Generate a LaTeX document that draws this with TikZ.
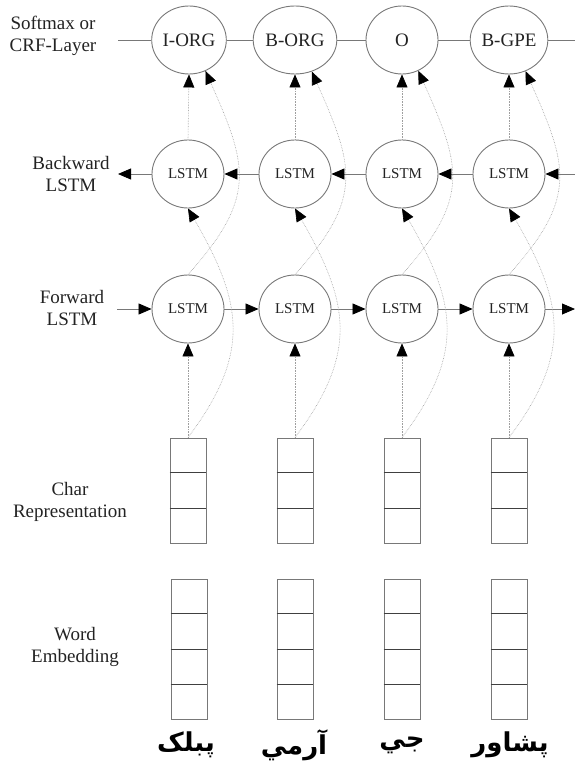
\documentclass[tikz,border=0pt]{standalone}
\usepackage{fontspec}
\setmainfont{Liberation Serif}
\newfontfamily\arabicfont[Script=Arabic]{DejaVu Sans}
\TeXXeTstate=1
\usepackage{xcolor}
\usetikzlibrary{arrows.meta, shapes.geometric, calc}
\definecolor{inkgray}{RGB}{120,120,120}
\definecolor{txtgray}{RGB}{35,35,35}

\begin{document}
\begin{tikzpicture}[x=1pt, y=1pt,
		cell/.style={ellipse, draw=inkgray, line width=0.9pt, minimum width=72pt, minimum height=68pt, inner sep=0pt, text=txtgray},
		tag/.style={cell, font=\fontsize{19}{22}\selectfont},
		lstm/.style={cell, font=\fontsize{15}{18}\selectfont},
		stack/.style={draw=inkgray, line width=0.9pt, minimum width=36pt, inner sep=0pt},
		divide/.style={draw=black!75, line width=0.8pt},
		side/.style={align=center, text=txtgray, font=\fontsize{19}{22}\selectfont},
		word/.style={text=black, font=\arabicfont\bfseries\fontsize{26}{29}\selectfont},
		link/.style={draw=inkgray, line width=0.8pt},
		flow/.style={link, -{Triangle[length=13pt, width=11pt, color=black]}},
		feed/.style={draw=gray!75, line width=0.6pt, densely dotted, -{Triangle[length=13pt, width=11pt, color=black]}}]
			\useasboundingbox (0,0) rectangle (575,-765);
			% Layer names:
			\node[side](L1) at (53,-36){Softmax or\\CRF-Layer};
			\node[side](L2) at (71,-174){Backward\\LSTM};
			\node[side](L3) at (72,-308){Forward\\LSTM};
			\node[side](L4) at (70,-502){Char\\Representation};
			\node[side](L5) at (75,-647){Word\\Embedding};
			% Output tags:
			\node[tag](S1) at (189,-40){I-ORG};
			\node[tag](S2) at (295,-40){B-ORG};
			\node[tag](S3) at (402,-40){O};
			\node[tag](S4) at (509,-40){B-GPE};
			% Backward and forward cells:
			\node[lstm](B1) at (188,-174){LSTM};
			\node[lstm](B2) at (295,-174){LSTM};
			\node[lstm](B3) at (402,-174){LSTM};
			\node[lstm](B4) at (509,-174){LSTM};
			\node[lstm](F1) at (188,-309){LSTM};
			\node[lstm](F2) at (295,-309){LSTM};
			\node[lstm](F3) at (402,-309){LSTM};
			\node[lstm](F4) at (509,-309){LSTM};
			% Char and word vectors:
			\node[stack, minimum height=105pt](C1) at (188,-490.5){};
			\node[stack, minimum height=105pt](C2) at (295,-490.5){};
			\node[stack, minimum height=105pt](C3) at (402,-490.5){};
			\node[stack, minimum height=105pt](C4) at (509,-490.5){};
			\node[stack, minimum height=140pt](W1) at (189,-649){};
			\node[stack, minimum height=140pt](W2) at (295,-649){};
			\node[stack, minimum height=140pt](W3) at (402,-649){};
			\node[stack, minimum height=140pt](W4) at (509,-649){};
			\draw[divide] ($(C1.north west)!1/3!(C1.south west)$) -- ($(C1.north east)!1/3!(C1.south east)$);
			\draw[divide] ($(C1.north west)!2/3!(C1.south west)$) -- ($(C1.north east)!2/3!(C1.south east)$);
			\draw[divide] ($(C2.north west)!1/3!(C2.south west)$) -- ($(C2.north east)!1/3!(C2.south east)$);
			\draw[divide] ($(C2.north west)!2/3!(C2.south west)$) -- ($(C2.north east)!2/3!(C2.south east)$);
			\draw[divide] ($(C3.north west)!1/3!(C3.south west)$) -- ($(C3.north east)!1/3!(C3.south east)$);
			\draw[divide] ($(C3.north west)!2/3!(C3.south west)$) -- ($(C3.north east)!2/3!(C3.south east)$);
			\draw[divide] ($(C4.north west)!1/3!(C4.south west)$) -- ($(C4.north east)!1/3!(C4.south east)$);
			\draw[divide] ($(C4.north west)!2/3!(C4.south west)$) -- ($(C4.north east)!2/3!(C4.south east)$);
			\draw[divide] ($(W1.north west)!1/4!(W1.south west)$) -- ($(W1.north east)!1/4!(W1.south east)$);
			\draw[divide] ($(W1.north west)!2/4!(W1.south west)$) -- ($(W1.north east)!2/4!(W1.south east)$);
			\draw[divide] ($(W1.north west)!3/4!(W1.south west)$) -- ($(W1.north east)!3/4!(W1.south east)$);
			\draw[divide] ($(W2.north west)!1/4!(W2.south west)$) -- ($(W2.north east)!1/4!(W2.south east)$);
			\draw[divide] ($(W2.north west)!2/4!(W2.south west)$) -- ($(W2.north east)!2/4!(W2.south east)$);
			\draw[divide] ($(W2.north west)!3/4!(W2.south west)$) -- ($(W2.north east)!3/4!(W2.south east)$);
			\draw[divide] ($(W3.north west)!1/4!(W3.south west)$) -- ($(W3.north east)!1/4!(W3.south east)$);
			\draw[divide] ($(W3.north west)!2/4!(W3.south west)$) -- ($(W3.north east)!2/4!(W3.south east)$);
			\draw[divide] ($(W3.north west)!3/4!(W3.south west)$) -- ($(W3.north east)!3/4!(W3.south east)$);
			\draw[divide] ($(W4.north west)!1/4!(W4.south west)$) -- ($(W4.north east)!1/4!(W4.south east)$);
			\draw[divide] ($(W4.north west)!2/4!(W4.south west)$) -- ($(W4.north east)!2/4!(W4.south east)$);
			\draw[divide] ($(W4.north west)!3/4!(W4.south west)$) -- ($(W4.north east)!3/4!(W4.south east)$);
			% Input words:
			\node[word](A1) at (186,-745){\beginR پبلک\endR};
			\node[word](A2) at (294,-745){\beginR آرمي\endR};
			\node[word](A3) at (402,-745){\beginR جي\endR};
			\node[word](A4) at (510,-745){\beginR پشاور\endR};
			% Free line ends at the edges:
			\coordinate (s0) at (118,-40);
			\coordinate (s5) at (575,-40);
			\coordinate (b0) at (118,-174);
			\coordinate (b5) at (575,-174);
			\coordinate (f0) at (117,-309);
			\coordinate (f5) at (575,-309);
			% Chains:
			\draw[link] (s0) -- (S1) -- (S2) -- (S3) -- (S4) -- (s5);
			\draw[flow] (B1) -- (b0);
			\draw[flow] (B2) -- (B1);
			\draw[flow] (B3) -- (B2);
			\draw[flow] (B4) -- (B3);
			\draw[flow] (b5) -- (B4);
			\draw[flow] (f0) -- (F1);
			\draw[flow] (F1) -- (F2);
			\draw[flow] (F2) -- (F3);
			\draw[flow] (F3) -- (F4);
			\draw[flow] (F4) -- (f5);
			% Feeds between layers:
			\draw[feed] (C1.north) -- (F1.south);
			\draw[feed] (C2.north) -- (F2.south);
			\draw[feed] (C3.north) -- (F3.south);
			\draw[feed] (C4.north) -- (F4.south);
			\draw[feed] (C1.north) to[out=53, in=-60, looseness=1.2] (B1.south);
			\draw[feed] (C2.north) to[out=53, in=-60, looseness=1.2] (B2.south);
			\draw[feed] (C3.north) to[out=53, in=-60, looseness=1.2] (B3.south);
			\draw[feed] (C4.north) to[out=53, in=-60, looseness=1.2] (B4.south);
			\draw[feed] (B1.north) -- (S1.south);
			\draw[feed] (B2.north) -- (S2.south);
			\draw[feed] (B3.north) -- (S3.south);
			\draw[feed] (B4.north) -- (S4.south);
			\draw[feed] (F1.north) to[out=48, in=-66, looseness=1.3] (S1.-62);
			\draw[feed] (F2.north) to[out=48, in=-66, looseness=1.3] (S2.-62);
			\draw[feed] (F3.north) to[out=48, in=-66, looseness=1.3] (S3.-62);
			\draw[feed] (F4.north) to[out=48, in=-66, looseness=1.3] (S4.-62);
		\end{tikzpicture}
\end{document}
